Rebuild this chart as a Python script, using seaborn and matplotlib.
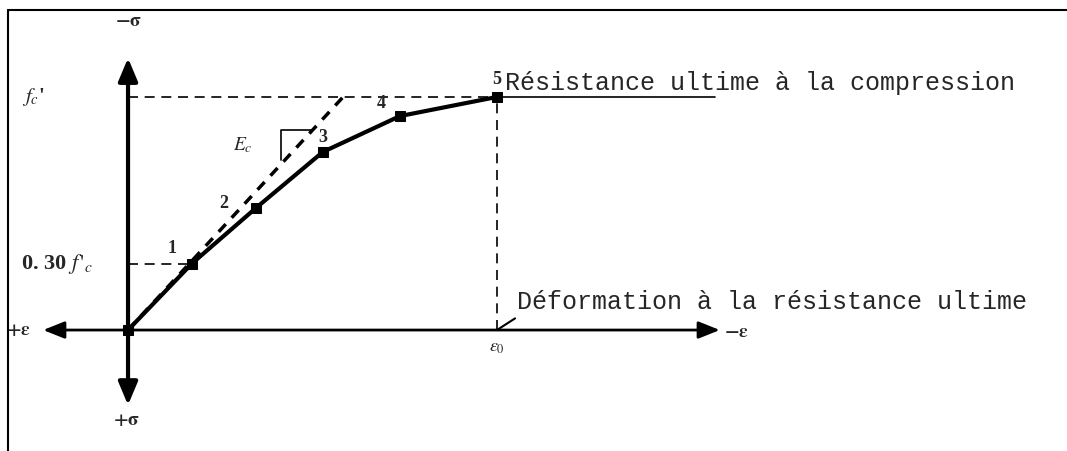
import numpy as np
import pandas as pd
import seaborn as sns
import matplotlib.pyplot as plt
from matplotlib.lines import Line2D

# stress-strain curve, strain in units of eps0, stress in units of f'c
strain = [0.0, 0.173, 0.347, 0.528, 0.737, 1.0]
stress = [0.0, 0.285, 0.524, 0.764, 0.918, 1.0]
point_names = ["", "1", "2", "3", "4", "5"]

# initial tangent (Ec)
tangent_strain = [0.0, 0.583]
tangent_stress = [0.0, 1.0]

fc = 1.0
eps0 = 1.0

label_top = "Résistance ultime à la compression"
label_eps0 = "Déformation à la résistance ultime"

sns.set_style("white")
plt.rcParams['font.family'] = ['Liberation Serif', 'DejaVu Serif']
plt.rcParams['mathtext.fontset'] = 'stix'

fig = plt.figure(figsize=(10.67, 4.51), dpi=100)
ax = fig.add_axes([0, 0, 1, 1])

# frame of the page
fig.add_artist(Line2D([8/1067, 8/1067], [0, 1 - 10/451], transform=fig.transFigure, color='k', lw=1.5))
fig.add_artist(Line2D([8/1067, 1], [1 - 10/451, 1 - 10/451], transform=fig.transFigure, color='k', lw=1.5))

# axes with arrows
arr_v = dict(arrowstyle="-|>,head_length=1.0,head_width=0.42", color='k', lw=3, mutation_scale=14, shrinkA=0, shrinkB=0)
arr_h = dict(arrowstyle="-|>,head_length=1.0,head_width=0.4", color='k', lw=2, mutation_scale=13, shrinkA=0, shrinkB=0)
ax.annotate("", xy=(0, 1.167), xytext=(0, 0), arrowprops=arr_v)
ax.annotate("", xy=(0, -0.322), xytext=(0, 0), arrowprops=arr_v)
ax.annotate("", xy=(-0.23, 0), xytext=(0, 0), arrowprops=arr_h)
ax.annotate("", xy=(1.604, 0), xytext=(0, 0), arrowprops=arr_h)

# reference lines
dash = (0, (6, 4))
ax.plot([0, eps0], [fc, fc], color='k', lw=1.2, ls=dash)
ax.plot([eps0, 1.591], [fc, fc], color='k', lw=1.2)
ax.plot([eps0, eps0], [0, fc], color='k', lw=1.2, ls=dash)
ax.plot([0, strain[1]], [stress[1], stress[1]], color='k', lw=1.2, ls=dash)
ax.plot([eps0, 1.049], [0, 0.05], color='k', lw=1.5)

# tangent line + slope triangle
ax.plot(tangent_strain, tangent_stress, color='k', lw=2.5, ls=(0, (3, 2.5)))
ax.plot([0.415, 0.415, 0.501], [0.730, 0.858, 0.858], color='k', lw=1.2)

# the curve
df = pd.DataFrame({'strain': strain, 'stress': stress})
sns.lineplot(data=df, x='strain', y='stress', ax=ax, color='k', lw=3, marker='s',
             markersize=7, markeredgecolor='k', sort=False, estimator=None)
ax.set_xlim(-0.347, 2.545)
ax.set_ylim(-0.519, 1.416)
ax.axis('off')

offsets = [(0, 0), (-0.054, 0.066), (-0.087, 0.021), (0.0, 0.06), (-0.051, 0.052), (0.0, 0.073)]
for sx, sy, name, (dx, dy) in zip(strain, stress, point_names, offsets):
    if name:
        ax.text(sx + dx, sy + dy, name, ha='center', va='center', fontsize=13, fontweight='bold')

# axis labels
ax.text(0, 1.322, r"$\mathbf{-\sigma}$", ha='center', va='center', fontsize=14)
ax.text(-0.005, -0.386, r"$\mathbf{+\sigma}$", ha='center', va='center', fontsize=14)
ax.text(-0.298, 0, r"$\mathbf{+\varepsilon}$", ha='center', va='center', fontsize=14)
ax.text(1.65, -0.01, r"$\mathbf{-\varepsilon}$", ha='center', va='center', fontsize=14)
ax.text(-0.257, fc, r"$f_c$'", ha='center', va='center', fontsize=15, fontweight='bold')
ax.text(-0.192, stress[1], r"0. 30 $f\,'_c$", ha='center', va='center', fontsize=16, fontweight='bold')
ax.text(eps0, -0.077, r"$\varepsilon_0$", ha='center', va='center', fontsize=13)
ax.text(0.312, 0.794, r"$E_c$", ha='center', va='center', fontsize=14)

ax.text(1.022, 1.06, label_top, ha='left', va='center', fontsize=18, family='Liberation Mono')
ax.text(1.054, 0.12, label_eps0, ha='left', va='center', fontsize=18, family='Liberation Mono')

fig.savefig("out.png", dpi=100)
